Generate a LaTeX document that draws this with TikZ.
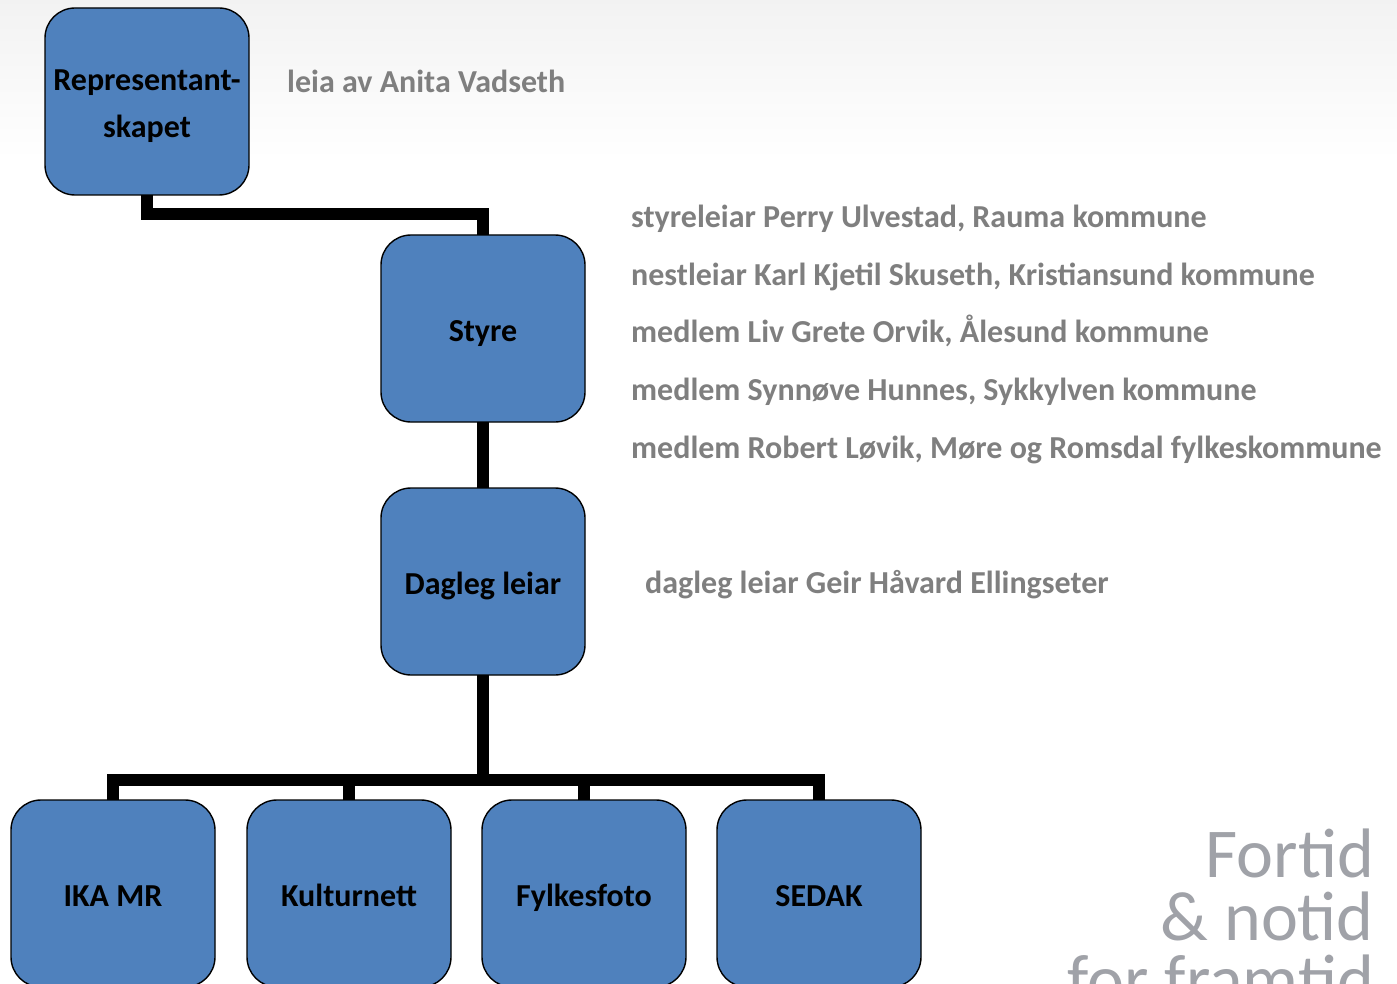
\documentclass[tikz,border=0pt]{standalone}
\usepackage{fontspec}
\setmainfont{Carlito}
\usetikzlibrary{positioning,calc}

\definecolor{boxblue}{HTML}{4F81BD}
\definecolor{infogrey}{HTML}{7F7F7F}
\definecolor{logogrey}{HTML}{A0A2A8}

\begin{document}
\begin{tikzpicture}[x=1pt,y=-1pt,
org/.style={draw=black,line width=1.4pt,fill=boxblue,rounded corners=30pt,
    minimum width=204pt,minimum height=187pt,inner sep=0pt,outer sep=0pt,
    align=center,font=\fontsize{32}{47}\selectfont\bfseries,text=black},
orgline/.style={org,text height=25pt,text depth=0pt},
info/.style={anchor=west,inner sep=0pt,text height=24pt,text depth=8pt,
    font=\fontsize{32}{38}\selectfont\bfseries,text=infogrey},
conn/.style={line width=12pt,line cap=butt},
    ]
\useasboundingbox (0,0) rectangle (1397,984);
\fill[white] (0,0) rectangle (1397,984);
% faint backdrop
\shade[top color=black!5,bottom color=white] (0,0) rectangle (1397,160);

\node[org] (Rep) at (147,101.5) {\rule{0pt}{30pt}Representant-\\skapet};
\node[orgline] (Styre) [below right=40pt and 132pt of Rep] {Styre};
\node[orgline] (Dagleg) [below=66pt of Styre] {Dagleg leiar};
\node[orgline] (IKA) at (113,893.5) {IKA MR};
\node[orgline] (Kultur) [right=32pt of IKA] {Kulturnett};
\node[orgline] (Foto) [right=31pt of Kultur] {Fylkesfoto};
\node[orgline] (Sedak) [right=31pt of Foto] {SEDAK};

% who is who
\node[info] (RepInfo) at (287,85) {leia av Anita Vadseth};
\node[info] (s1) at (631,220) {styreleiar Perry Ulvestad, Rauma kommune};
\node[info] (s2) at (631,278) {nestleiar Karl Kjetil Skuseth, Kristiansund kommune};
\node[info] (s3) at (631,334) {medlem Liv Grete Orvik, Ålesund kommune};
\node[info] (s4) at (631,392) {medlem Synnøve Hunnes, Sykkylven kommune};
\node[info] (s5) at (631,450) {medlem Robert Løvik, Møre og Romsdal fylkeskommune};
\node[info] (DaglegInfo) at (645,585) {dagleg leiar Geir Håvard Ellingseter};

% logo text
\node[anchor=north east,inner sep=0pt,align=right,text=logogrey,
  font=\fontsize{70}{63}\selectfont] (Logo) at (1374,829)
  {Fortid\\\& notid\\for framtid};

\coordinate (TopBar) at ($(Rep.south)+(0,19)$);
\coordinate (BotBar) at ($(Dagleg.south)+(0,105)$);
\draw[conn] (Rep.south) -- (TopBar) -| (Styre.north);
\draw[conn] (Styre.south) -- (Dagleg.north);
\draw[conn] (Dagleg.south) -- (BotBar);
\draw[conn] (IKA.north) |- (BotBar) -| (Sedak.north);
\draw[conn] (Kultur.north) |- (BotBar);
\draw[conn] (Foto.north) |- (BotBar);
\end{tikzpicture}
\end{document}
